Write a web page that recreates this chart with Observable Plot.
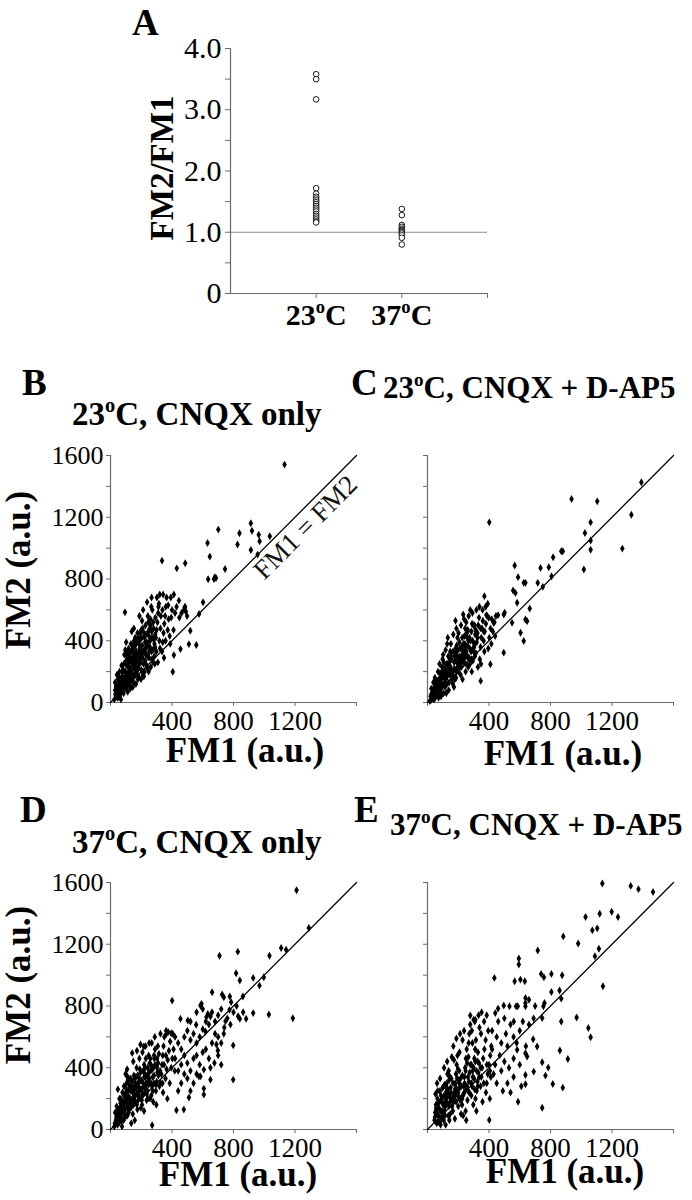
<!DOCTYPE html>
<html><head><meta charset="utf-8">
<script src="https://cdn.jsdelivr.net/npm/d3@7"></script>
<script src="https://cdn.jsdelivr.net/npm/@observablehq/plot@0.6"></script>
<style>
body{margin:0;background:#fff;}
#fig{position:relative;width:692px;height:1200px;background:#fff;overflow:hidden;font-family:"Liberation Serif",Tinos,"Times New Roman",Times,"DejaVu Serif",serif;}
#fig svg{position:absolute;overflow:visible;}
#fig svg text{font-family:"Liberation Serif",Tinos,"Times New Roman",Times,"DejaVu Serif",serif;}
</style></head><body><div id="fig"></div>
<script>
// ---------- Panel A data ----------
const ratio23 = [3.58, 3.50, 3.17, 1.72, 1.63, 1.58, 1.55, 1.52, 1.49, 1.46, 1.43, 1.40, 1.37, 1.34, 1.30, 1.27, 1.24, 1.21, 1.18, 1.16];
const ratio37 = [1.38, 1.28, 1.12, 1.09, 1.06, 1.04, 1.02, 1.00, 0.98, 0.95, 0.91, 0.80];
const categoryLabels = ["23°C", "37°C"];
const ratioTicks = [0, 0.5, 1, 1.5, 2, 2.5, 3, 3.5, 4];
const referenceRatio = [1];

// ---------- Scatter axes ----------
const fmTicksY = [0, 200, 400, 600, 800, 1000, 1200, 1400, 1600];
const fmTicksX = [0, 400, 800, 1200, 1600];
const fmLabeledX = [400, 800, 1200];
const fmLabeledY = [0, 400, 800, 1200, 1600];
const identityLine = [0, 1600];
const lineLabel = "FM1 = FM2";
const lineLabelAt = [1268, 1134];

const titles = ["23°C, CNQX only", "23°C, CNQX + D-AP5", "37°C, CNQX only", "37°C, CNQX + D-AP5"];
const panelLetters = ["A", "B", "C", "D", "E"];

// ---------- Panel B: 23C CNQX only [FM1, FM2] ----------
const dataB = [
[1132,1541],[913,1161],[920,1113],[839,1096],[701,1120],[964,1087],[970,1044],[1036,1077],[826,1023],[913,988],[957,958],[631,1033],[646,945],[335,919],[431,869],[486,902],[745,865],[679,811],[673,800],[686,806],[635,798],[94,584],[602,649],[576,573],[519,465],[510,378],[558,372],[455,346],[412,307],[405,199],[482,616],
[25,20],[35,45],[30,80],[45,30],[50,60],[40,110],[55,95],[60,40],[65,130],[70,75],[48,150],[75,170],[80,110],[58,200],[72,240],[85,60],[90,150],[30,130],[42,180],[68,20],[38,60],[52,120],[62,90],[78,140],[44,90],
[88,200],[95,260],[100,90],[105,130],[110,180],[115,230],[120,300],[96,340],[125,110],[128,160],[108,280],[118,350],[130,210],[112,70],[102,390],[122,260],[90,310],[127,320],[115,150],[106,240],[98,170],[118,200],[92,120],[110,320],
[135,140],[140,190],[145,250],[150,300],[155,360],[160,420],[138,460],[165,120],[170,200],[175,270],[142,330],[148,230],[158,180],[168,330],[172,400],[178,150],[152,480],[162,260],[133,380],[176,450],[145,100],[155,220],[165,290],[138,260],
[182,220],[186,290],[190,350],[195,410],[200,470],[205,530],[210,180],[215,250],[220,320],[225,390],[188,560],[198,150],[208,290],[218,450],[228,500],[184,380],[196,260],[212,600],[222,200],[230,350],[203,420],[192,320],
[235,240],[240,300],[245,370],[250,430],[255,480],[260,540],[265,620],[238,650],[270,280],[275,340],[248,200],[258,400],[268,460],[278,520],[243,560],[262,230],[272,600],[252,330],[280,410],[267,680],
[285,300],[290,360],[295,420],[300,470],[305,520],[310,580],[315,640],[320,700],[288,250],[298,330],[308,260],[318,400],[325,480],[292,550],[312,620],[328,560],[302,680],[322,350],
[335,330],[340,390],[345,450],[350,510],[355,560],[360,620],[365,680],[372,470],[378,540],[338,600],[348,290],[358,400],[375,630],[342,700],
[385,430],[395,550],[400,600],[410,470],[420,580],[430,620],[392,680],[412,700],[388,380],
[448,550],[462,580],[478,600],[490,590],[445,660],[485,620],[498,560],
[32,55],[36,100],[44,70],[53,35],[57,160],[63,110],[66,60],[74,200],[79,90],[83,130],[87,250],[93,100],[97,200],[103,160],[107,300],[111,110],[116,270],[119,180],[124,230],[129,90],[132,290],[136,200],[139,340],[143,160],[147,280],[151,130],[154,400],[157,240],[161,320],[164,180],[167,380],[171,230],[174,300],[177,420],[181,170],[185,330],[189,250],[193,450],[197,300],[201,210],[206,370],[209,480],[213,330],[217,170],[221,420],[226,270],[229,440],[233,310],[237,390],[241,220],[246,460],[251,290],[256,360],[261,500],[266,330],[271,420],[276,260],[281,480],[286,380],[291,440],[62,150],[84,210],[102,250],[126,140],[144,370],[166,270],[186,410],[206,330],[226,350],[246,520]
];

// ---------- Panel C: 23C CNQX + D-AP5 ----------
const dataC = [
[1391,1427],[937,1318],[1104,1303],[1326,1216],[402,1167],[1061,1167],[1024,1098],[1061,1049],[1061,990],[1267,997],[870,980],[880,980],[817,941],[789,876],[735,872],[1017,861],[807,818],[750,749],[717,775],[567,887],[589,812],[626,775],[637,775],[557,726],[572,710],[583,646],[370,689],[665,609],[637,538],[648,527],[605,452],[626,398],[550,517],[502,581],[496,570],[459,566],[383,566],[398,549],[430,517],[496,323],[409,248],[346,140],
[15,10],[20,40],[30,25],[35,70],[40,50],[45,100],[50,30],[55,80],[25,90],[38,130],[58,120],[48,160],[60,55],[28,60],[42,20],[52,140],
[65,70],[70,110],[75,150],[80,190],[85,90],[90,130],[95,230],[100,170],[105,60],[68,200],[78,250],[88,40],[98,280],[108,120],[72,30],[92,200],[102,310],[82,160],[96,100],
[115,100],[120,150],[125,200],[130,250],[135,300],[140,130],[145,180],[150,230],[155,280],[118,340],[128,380],[138,80],[148,330],[158,150],[112,220],[132,420],[152,380],[142,260],[122,60],[126,170],[146,210],
[165,120],[170,170],[175,220],[180,270],[185,320],[190,370],[195,420],[200,200],[205,250],[210,300],[168,440],[178,150],[188,480],[198,340],[208,390],[172,100],[192,260],[202,450],[182,530],[186,200],
[215,180],[220,230],[225,280],[230,330],[235,380],[240,430],[245,480],[250,250],[255,310],[260,370],[218,500],[228,150],[238,540],[248,200],[258,420],[222,360],[242,290],[252,520],[232,570],
[265,230],[270,290],[275,350],[280,400],[285,460],[290,510],[295,270],[300,330],[305,380],[310,440],[268,560],[288,200],[298,500],[278,600],[308,300],[292,580],[262,470],
[315,320],[320,390],[325,450],[330,500],[335,550],[340,280],[345,360],[350,420],[355,480],[360,530],[318,600],[338,620],[348,250],[358,600],[328,230],
[365,400],[372,460],[380,510],[388,560],[395,350],[402,420],[410,480],[418,540],[425,460],[435,520],[445,560],[378,620],[392,640],[370,330],[415,380],[440,430],
[22,15],[33,45],[43,80],[53,60],[63,100],[73,130],[83,70],[93,160],[103,200],[113,150],[123,250],[133,180],[143,230],[153,300],[163,200],[173,260],[183,350],[193,300],[203,230],[213,350],[223,300],[233,260],[243,380],[253,330],[263,290],[273,420],[283,330],[293,400],[303,360],[313,470],[26,50],[46,35],[66,140],[86,110],[106,260],[126,120],[146,280],[166,330],[186,160],[206,280],[226,420],[246,350],[266,400],[286,280],[306,500],[326,420],[346,480],[366,460],[56,100],[76,70],[116,190],[136,230],[156,190],[176,300],[196,230],[216,260],[236,320],[256,450],[276,250],[296,350]
];

// ---------- Panel D: 37C CNQX only ----------
const dataD = [
[1210,1550],[1290,1305],[1110,1176],[1142,1165],[828,1152],[709,1126],[1034,1126],[817,1012],[841,965],[928,982],[997,986],[969,932],[861,861],[863,760],[882,717],[830,734],[841,717],[928,754],[1030,745],[1186,721],[401,835],[661,889],[585,803],[592,814],[726,874],[737,857],[776,861],[785,825],[774,775],[748,702],[633,749],[624,728],[650,732],[557,678],[618,635],[737,620],[689,551],[698,512],[798,545],[798,323],[676,431],[650,323],[607,388],[575,344],[585,344],[607,265],[607,226],[510,207],[477,129],[429,125],[271,28],[141,495],[195,551],[217,538],[395,624],[375,631],[364,620],[455,717],[503,706],
[420,600],[440,560],[460,520],[480,600],[500,640],[520,580],[540,620],[560,560],[580,600],[600,650],[620,700],[640,680],[660,760],[680,700],[700,740],[720,780],[560,760],[600,780],[520,700],[480,480],[500,430],[520,380],[540,460],[460,420],[440,380],[420,460],[560,480],[580,420],[620,520],[640,460],[660,560],[700,600],[720,560],[740,660],[760,720],[780,680],[800,760],[820,800],[460,300],[500,330],[540,300],[440,250],[520,250],[560,360],[480,360],[700,480],[720,420],[650,400],[680,620],[600,500],
[25,20],[35,60],[45,30],[50,90],[55,130],[60,50],[65,170],[70,100],[75,20],[30,110],[40,150],[58,200],[78,240],[72,140],[48,260],[62,80],[82,180],[52,40],
[85,60],[90,120],[95,180],[100,240],[105,300],[110,90],[115,150],[120,210],[125,270],[130,330],[135,40],[88,280],[98,360],[108,390],[118,110],[128,180],[138,250],[92,220],[112,340],[132,140],[102,140],[122,170],[96,80],[114,250],
[145,100],[150,160],[155,220],[160,280],[165,340],[170,400],[175,130],[180,190],[185,250],[190,310],[195,370],[148,440],[158,60],[168,230],[178,300],[188,460],[198,140],[152,350],[172,510],[162,180],[142,200],[182,220],[156,260],
[205,160],[210,220],[215,280],[220,340],[225,400],[230,460],[235,190],[240,250],[245,310],[250,370],[255,430],[208,500],[218,120],[228,540],[238,350],[248,480],[258,200],[212,380],[232,300],[252,560],[202,260],[222,240],
[265,220],[270,280],[275,340],[280,400],[285,460],[290,520],[295,250],[300,310],[305,370],[310,430],[315,490],[268,560],[278,180],[288,600],[298,160],[308,540],[318,280],[262,380],[282,300],
[325,300],[330,360],[335,420],[340,480],[345,540],[350,600],[358,330],[365,390],[372,450],[380,510],[388,570],[395,400],[402,460],[410,520],[418,380],[342,240],[362,640],[385,300],[405,620],[325,620],[370,200],
[28,40],[38,80],[43,120],[53,60],[63,140],[68,200],[76,110],[84,160],[89,220],[94,90],[99,270],[104,180],[109,240],[113,320],[117,130],[123,290],[127,200],[131,250],[137,170],[141,310],[146,240],[151,190],[157,330],[161,220],[167,270],[171,160],[176,350],[181,280],[186,210],[191,390],[196,260],[201,320],[207,230],[213,300],[219,420],[224,270],[229,340],[236,230],[242,400],[247,290],[253,330],[259,460],[264,300],[271,390],[276,250],[283,350],[289,420],[296,290],[303,400],[311,350],[58,100],[73,60],[88,130],[107,200],[126,150],[143,280],[163,300],[183,340],[203,190],[223,360],[243,200],[263,420],[283,480],[303,460],[323,380],[338,300],[348,420],[360,480]
];

// ---------- Panel E: 37C CNQX + D-AP5 ----------
const dataE = [
[1137,1594],[1322,1578],[1372,1557],[1467,1539],[1028,1377],[1120,1398],[1198,1411],[1239,1377],[1072,1290],[1104,1303],[883,1251],[980,1205],[1115,1171],[1089,1123],[717,1160],[594,1108],[594,1069],[435,982],[567,960],[604,971],[633,960],[739,1008],[757,986],[806,1008],[876,999],[806,891],[859,900],[1141,928],[761,819],[754,798],[870,848],[637,852],[637,819],[637,798],[587,798],[576,798],[561,700],[533,798],[496,803],[459,783],[441,754],[278,739],[300,711],[311,711],[970,726],[870,700],[1046,657],[1061,598],[746,722],[687,585],[713,538],[583,516],[637,494],[648,473],[861,512],[913,457],[746,436],[767,349],[785,401],[815,295],[880,271],[691,375],[637,353],[637,293],[589,180],[746,141],[402,61],[133,364],
[420,640],[450,600],[480,560],[510,620],[540,680],[460,700],[500,720],[520,540],[560,600],[600,640],[620,700],[660,680],[690,720],[470,480],[500,440],[530,400],[560,460],[440,420],[420,520],[480,380],[520,300],[560,340],[600,420],[640,540],[580,560],[700,800],[660,840],[450,300],[540,240],[490,250],[610,280],[430,360],
[45,60],[50,110],[55,160],[60,40],[65,200],[70,90],[75,140],[80,250],[85,30],[90,180],[95,120],[52,230],[62,300],[72,50],[82,330],[92,80],[98,270],[58,130],[68,170],[88,220],
[105,60],[110,120],[115,180],[120,240],[125,300],[130,360],[135,90],[140,150],[145,210],[150,270],[155,330],[108,400],[118,30],[128,440],[138,380],[148,100],[158,470],[112,290],[142,60],[152,200],[122,200],[132,260],[116,150],
[165,120],[170,180],[175,240],[180,300],[185,360],[190,420],[195,480],[200,150],[205,210],[210,270],[215,330],[168,540],[178,70],[188,590],[198,390],[208,500],[218,100],[172,450],[192,250],[212,620],[182,220],[202,320],
[225,160],[230,220],[235,280],[240,340],[245,400],[250,460],[255,520],[260,190],[265,250],[270,310],[275,370],[228,580],[238,640],[248,120],[258,430],[268,560],[278,680],[232,90],[252,60],[272,620],
[285,220],[290,280],[295,340],[300,400],[305,460],[310,520],[315,580],[320,250],[325,310],[330,370],[335,430],[288,640],[298,160],[308,700],[318,120],[328,500],[338,660],[292,560],[312,200],[332,740],
[345,280],[350,340],[355,400],[362,460],[370,520],[378,580],[385,300],[392,360],[400,420],[408,480],[415,540],[348,620],[358,180],[368,700],[380,240],[395,640],[405,200],[412,340],[352,760],[385,740],
[48,80],[56,140],[64,100],[74,180],[84,120],[94,200],[102,160],[109,220],[114,90],[121,280],[127,170],[134,240],[141,320],[147,180],[153,240],[160,150],[166,300],[172,220],[179,260],[186,180],[193,330],[199,240],[206,300],[213,190],[220,280],[227,350],[234,230],[241,300],[248,380],[256,280],[263,340],[271,240],[279,420],[286,300],[294,380],[303,330],[311,440],[319,380],[327,280],[336,340],[66,250],[86,60],[106,280],[126,210],[146,340],[166,200],[186,270],[206,380],[226,200],[246,250],[266,470],[286,420],[306,260],[326,440],[346,400],[366,300],[386,420],[406,380]
];

const FONT = '"Liberation Serif", Tinos, "Times New Roman", Times, "DejaVu Serif", serif';
const AXIS = "#6a6a6a";
const fig = document.getElementById("fig");

function supify(el, size) {
  const s = el.textContent;
  if (!s.includes("°")) return;
  const parts = s.split("°");
  el.textContent = "";
  const sel = d3.select(el);
  sel.append("tspan").text(parts[0]);
  for (let i = 1; i < parts.length; i++) {
    sel.append("tspan").attr("font-size", size * 0.62).attr("dy", -size * 0.38).text("o");
    sel.append("tspan").attr("dy", size * 0.38).text(parts[i]);
  }
}

function place(svg, left, top) {
  svg.style.left = left + "px";
  svg.style.top = top + "px";
  fig.appendChild(svg);
}

// ---------- Panel A ----------
const aData = [
  ...ratio23.map(v => ({cat: 1, v})),
  ...ratio37.map(v => ({cat: 2, v}))
];
const plotA = Plot.plot({
  width: 520, height: 340,
  marginLeft: 230, marginRight: 33, marginTop: 48, marginBottom: 47,
  x: {domain: [0, 3]},
  y: {domain: [0, 4]},
  style: {fontFamily: FONT, fontSize: "30px", background: "transparent", overflow: "visible", color: "black"},
  marks: [
    Plot.ruleY(referenceRatio, {stroke: "#8c8c8c", strokeWidth: 1.2}),
    Plot.ruleX([0], {stroke: AXIS, strokeWidth: 1.2}),
    Plot.ruleY([0], {stroke: AXIS, strokeWidth: 1.2}),
    Plot.axisY({ticks: ratioTicks, tickSize: 5, tickPadding: 4, stroke: AXIS, label: null, fontSize: 30,
      tickFormat: d => d === 0 ? "0" : (Number.isInteger(d) ? d.toFixed(1) : "")}),
    Plot.axisX({ticks: [1, 2, 3], tickSize: 5, tickPadding: 5, stroke: AXIS, label: null, fontSize: 30, fontWeight: "bold",
      tickFormat: d => categoryLabels[d - 1] ?? ""}),
    Plot.dot(aData, {x: "cat", y: "v", r: 2.8, stroke: "black", fill: "white", strokeWidth: 0.9})
  ]
});
d3.select(plotA).selectAll("text").each(function() { supify(this, 30); });
place(plotA, 0, 0);

// ---------- Scatter panels ----------
function scatter(data, {yLabels, label}) {
  const ml = yLabels ? 110 : 87;
  return Plot.plot({
    width: ml + 246 + 16, height: 300,
    marginLeft: ml, marginRight: 16, marginTop: 15, marginBottom: 38,
    x: {domain: [0, 1600]},
    y: {domain: [0, 1600]},
    style: {fontFamily: FONT, fontSize: "26px", background: "transparent", overflow: "visible", color: "black"},
    marks: [
      Plot.ruleX([0], {stroke: AXIS, strokeWidth: 1.2}),
      Plot.ruleY([0], {stroke: AXIS, strokeWidth: 1.2}),
      Plot.axisY({ticks: fmTicksY, tickSize: 4, tickPadding: 3, stroke: AXIS, label: null, fontSize: 26,
        tickFormat: d => (yLabels && fmLabeledY.includes(d)) ? String(d) : ""}),
      Plot.axisX({ticks: fmTicksX, tickSize: 4, tickPadding: 4, stroke: AXIS, label: null, fontSize: 27,
        tickFormat: d => fmLabeledX.includes(d) ? String(d) : ""}),
      Plot.line(identityLine, {x: d => d, y: d => d, stroke: "black", strokeWidth: 1.3}),
      label ? Plot.text([lineLabel], {x: () => lineLabelAt[0], y: () => lineLabelAt[1], text: d => d, rotate: -45, fontSize: 27, fill: "#111"}) : null,
      Plot.dot(data, {x: d => d[0], y: d => d[1], symbol: "diamond", r: 2.4, fill: "black", stroke: "none"})
    ]
  });
}
place(scatter(dataB, {yLabels: true, label: true}), 0, 440);
place(scatter(dataC, {yLabels: false}), 340, 440);
place(scatter(dataD, {yLabels: true}), 0, 867);
place(scatter(dataE, {yLabels: false}), 340, 867);

// ---------- Titles and axis titles ----------
const ov = d3.select(fig).append("svg")
  .attr("width", 692).attr("height", 1200)
  .style("left", "0px").style("top", "0px").style("pointer-events", "none")
  .style("font-family", FONT).attr("fill", "black");

function addText(str, x, y, size, {anchor = "start", rotate = 0, weight = "bold"} = {}) {
  const t = ov.append("text")
    .attr("transform", `translate(${x},${y}) rotate(${rotate})`)
    .attr("text-anchor", anchor)
    .attr("font-size", size)
    .attr("font-weight", weight)
    .style("font-family", FONT)
    .text(str);
  supify(t.node(), size);
}

addText(panelLetters[0], 132, 35, 37);
addText(panelLetters[1], 22, 395, 37);
addText(panelLetters[2], 351, 395, 37);
addText(panelLetters[3], 20, 822, 37);
addText(panelLetters[4], 354, 822, 37);

addText("FM2/FM1", 173, 168, 33, {anchor: "middle", rotate: -90});

addText(titles[0], 72, 425, 33);
addText(titles[1], 383, 398, 31);
addText(titles[2], 72, 853, 33);
addText(titles[3], 390, 835, 31);

addText("FM2 (a.u.)", 30, 570, 35, {anchor: "middle", rotate: -90});
addText("FM2 (a.u.)", 30, 985, 35, {anchor: "middle", rotate: -90});

addText("FM1 (a.u.)", 245, 762, 35, {anchor: "middle"});
addText("FM1 (a.u.)", 563, 765, 35, {anchor: "middle"});
addText("FM1 (a.u.)", 238, 1186, 35, {anchor: "middle"});
addText("FM1 (a.u.)", 565, 1183, 35, {anchor: "middle"});
</script>
</body></html>
